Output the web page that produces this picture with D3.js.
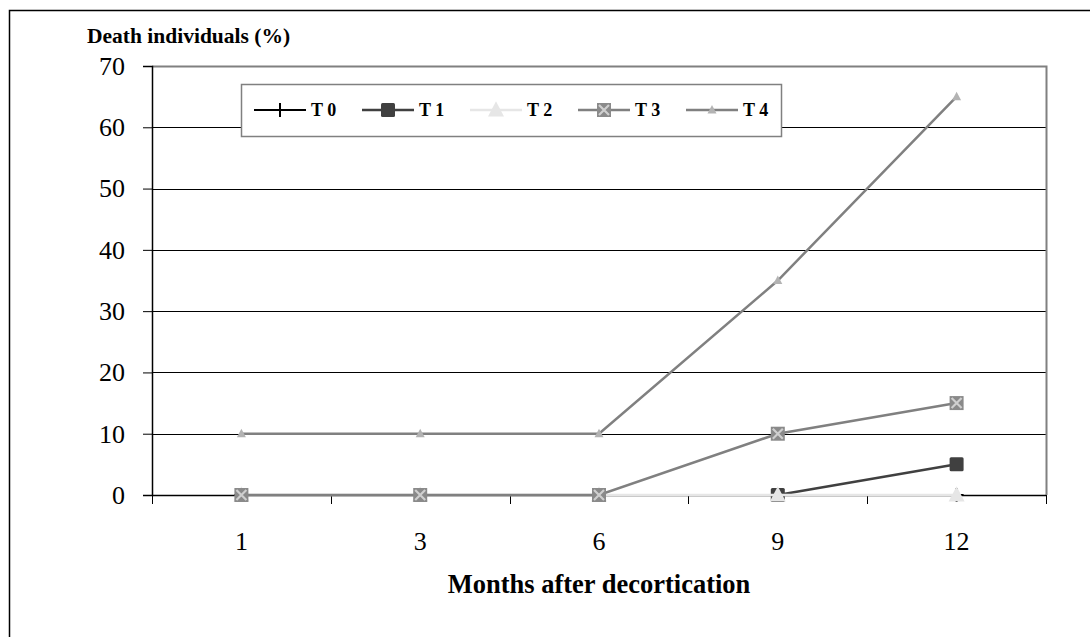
<!DOCTYPE html>
<html><head><meta charset="utf-8">
<script src="https://cdn.jsdelivr.net/npm/d3@7/dist/d3.min.js"></script>
<style>body{margin:0;background:#fff}svg{display:block}</style>
</head><body><svg id="c" width="1090" height="637"></svg>
<script>
const months = ["1","3","6","9","12"];
const seriesNames = ["T 0","T 1","T 2","T 3","T 4"];
const t0 = [0,0,0,0,0];
const t1 = [0,0,0,0,5];
const t2 = [0,0,0,0,0];
const t3 = [0,0,0,10,15];
const t4 = [10,10,10,35,65];
const yTicks = [0,10,20,30,40,50,60,70];

const svg = d3.select("#c");
const L=152,R=1046,T=66,B=495;
const x = d3.scaleBand().domain(months).range([L,R]);
const y = d3.scaleLinear().domain([0,70]).range([B,T]);
const serif = "'Liberation Serif','Times New Roman',serif";

// outer border
svg.append("rect").attr("x",9.5).attr("y",10.5).attr("width",1100).attr("height",700)
  .attr("fill","none").attr("stroke","#000").attr("stroke-width",1.5);

// gridlines
svg.append("g").selectAll("line").data(yTicks.filter(d=>d>0&&d<70)).join("line")
  .attr("x1",L).attr("x2",R).attr("y1",d=>Math.round(y(d))+0.5).attr("y2",d=>Math.round(y(d))+0.5)
  .attr("stroke","#000").attr("stroke-width",1);
// plot frame top/right grey
svg.append("path").attr("d",`M${L},${T+0.5}H${R+0.5}V${B}`).attr("fill","none").attr("stroke","#808080").attr("stroke-width",2);

// y axis
const ya = svg.append("g").attr("transform",`translate(${L},0)`)
  .call(d3.axisLeft(y).tickValues(yTicks).tickSize(9).tickPadding(18));
ya.select(".domain").attr("stroke","#000").attr("stroke-width",1.5);
ya.selectAll(".tick line").attr("stroke","#000");
ya.selectAll("text").attr("font-family",serif).attr("font-size",26).attr("fill","#000");

// x axis
const bounds = d3.range(months.length+1).map(i=>L+i*x.bandwidth());
const xg = svg.append("g");
xg.append("line").attr("x1",L).attr("x2",R).attr("y1",B+0.5).attr("y2",B+0.5).attr("stroke","#000").attr("stroke-width",1.5);
xg.selectAll("line.t").data(bounds).join("line").attr("class","t")
  .attr("x1",d=>Math.round(d)+0.5).attr("x2",d=>Math.round(d)+0.5).attr("y1",B).attr("y2",B+9).attr("stroke","#000");
const xa = svg.append("g").attr("transform",`translate(0,${B})`)
  .call(d3.axisBottom(x).tickSize(0).tickPadding(0));
xa.select(".domain").remove();
xa.selectAll("text").attr("dy",null).attr("y",55).attr("font-family",serif).attr("font-size",26).attr("fill","#000");

// titles
svg.append("text").attr("x",87).attr("y",43).attr("font-family",serif).attr("font-weight","bold")
  .attr("font-size",21.5).text("Death individuals (%)");
svg.append("text").attr("x",(L+R)/2).attr("y",593).attr("text-anchor","middle").attr("font-family",serif)
  .attr("font-weight","bold").attr("font-size",26.5).text("Months after decortication");

const cx = m=>x(m)+x.bandwidth()/2;
const styles = [
  {data:t0,line:"#000",w:2,mk:"plus"},
  {data:t1,line:"#404040",w:2.5,mk:"square",fill:"#404040"},
  {data:t2,line:"#e6e6e6",w:2.5,mk:"tri",fill:"#e6e6e6",size:8},
  {data:t3,line:"#808080",w:2.5,mk:"xsq",fill:"#8a8a8a"},
  {data:t4,line:"#808080",w:2.5,mk:"tri",fill:"#b3b3b3",size:4.5}
];
function marker(g,s,px,py){
  if(s.mk==="plus"){
    g.append("path").attr("d",`M${px-7},${py}H${px+7}M${px},${py-7}V${py+7}`).attr("stroke","#000").attr("stroke-width",2);
  } else if(s.mk==="square"){
    g.append("rect").attr("x",px-7).attr("y",py-7).attr("width",14).attr("height",14).attr("rx",1.5).attr("fill",s.fill);
  } else if(s.mk==="tri"){
    const r=s.size;
    g.append("path").attr("d",`M${px},${py-r*1.1}L${px+r},${py+r*0.8}L${px-r},${py+r*0.8}Z`).attr("fill",s.fill);
  } else if(s.mk==="xsq"){
    g.append("rect").attr("x",px-7).attr("y",py-7).attr("width",14).attr("height",14).attr("fill",s.fill);
    g.append("path").attr("d",`M${px-5},${py-5}L${px+5},${py+5}M${px+5},${py-5}L${px-5},${py+5}`).attr("stroke","#cfcfcf").attr("stroke-width",2.2);
  }
}
const lineStart = [0,3,0,0,0];
styles.forEach((s,k)=>{
  const g = svg.append("g");
  const pts = s.data.map((v,i)=>[cx(months[i]),y(v),i]).filter(p=>p[2]>=lineStart[k]);
  g.append("path").attr("d",d3.line()(pts.map(p=>[p[0],p[1]]))).attr("fill","none").attr("stroke",s.line).attr("stroke-width",s.w);
  pts.forEach(p=>marker(g,s,p[0],p[1]));
});

// legend
const lg = svg.append("g");
lg.append("rect").attr("x",241.5).attr("y",84.5).attr("width",540).attr("height",52).attr("fill","#fff").attr("stroke","#808080").attr("stroke-width",1.5);
seriesNames.forEach((n,i)=>{
  const s = styles[i];
  const x0 = 254 + i*108, yy = 110;
  lg.append("line").attr("x1",x0).attr("x2",x0+52).attr("y1",yy).attr("y2",yy).attr("stroke",s.line).attr("stroke-width",s.w);
  marker(lg,s,x0+26,yy);
  lg.append("text").attr("x",x0+57).attr("y",yy+6).attr("font-family",serif).attr("font-weight","bold").attr("font-size",18).text(n);
});
</script></body></html>
